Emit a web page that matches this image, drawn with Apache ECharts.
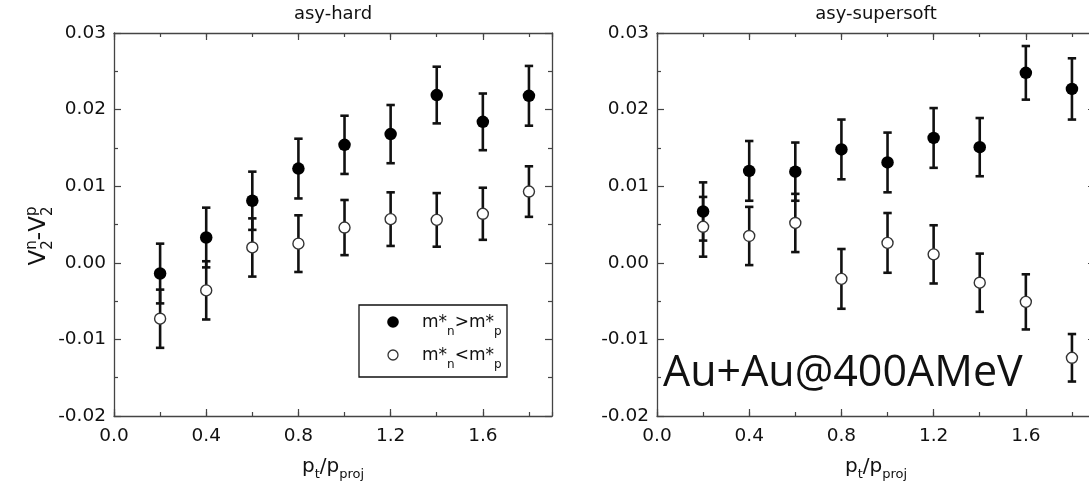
<!DOCTYPE html>
<html><head><meta charset="utf-8">
<script src="https://cdn.jsdelivr.net/npm/echarts@6/dist/echarts.min.js"></script>
<style>html,body{margin:0;padding:0;background:#fff}#c{width:1089px;height:491px}</style>
</head><body><div id="c"></div>
<script>
// ---- data ----
const xValues = [0.2, 0.4, 0.6, 0.8, 1.0, 1.2, 1.4, 1.6, 1.8];
// asy-hard
const hardFilled    = [-0.0014, 0.0033, 0.0081, 0.0123, 0.0154, 0.0168, 0.0219, 0.0184, 0.0218];
const hardFilledErr = [0.0039, 0.0039, 0.0038, 0.0039, 0.0038, 0.0038, 0.0037, 0.0037, 0.0039];
const hardOpen      = [-0.0073, -0.0036, 0.0020, 0.0025, 0.0046, 0.0057, 0.0056, 0.0064, 0.0093];
const hardOpenErr   = [0.0038, 0.0038, 0.0038, 0.0037, 0.0036, 0.0035, 0.0035, 0.0034, 0.0033];
// asy-supersoft
const softFilled    = [0.0067, 0.0120, 0.0119, 0.0148, 0.0131, 0.0163, 0.0151, 0.0248, 0.0227];
const softFilledErr = [0.0038, 0.0039, 0.0038, 0.0039, 0.0039, 0.0039, 0.0038, 0.0035, 0.0040];
const softOpen      = [0.0047, 0.0035, 0.0052, -0.0021, 0.0026, 0.0011, -0.0026, -0.0051, -0.0124];
const softOpenErr   = [0.0039, 0.0038, 0.0038, 0.0039, 0.0039, 0.0038, 0.0038, 0.0036, 0.0031];

const xTickLabels = ['0.0', '0.4', '0.8', '1.2', '1.6'];
const yTickLabels = ['-0.02', '-0.01', '0.00', '0.01', '0.02', '0.03'];
const panelTitles = ['asy-hard', 'asy-supersoft'];
const annotation = 'Au+Au@400AMeV';

// ---- helpers ----
const TICK_FONT = 'DejaVu Sans';
const TXT_FONT = 'DejaVu Sans';
const frameColor = '#444';
const ctx2d = document.createElement('canvas').getContext('2d');
function measure(t, size, fam) { ctx2d.font = size + 'px "' + fam + '"'; return ctx2d.measureText(t).width; }
function txt(t, x, baseline, size, fam, align) {
  return { type: 'text', x: x, y: baseline - 0.35 * size, silent: true,
    style: { text: t, font: size + 'px "' + fam + '"', fill: '#111',
      textAlign: align || 'left', textVerticalAlign: 'middle', align: align || 'left', verticalAlign: 'middle' } };
}
// pieces: {t, s, dy} or {sup, sub, s, up, down}
function runs(pieces, x0, baseline, fam, center) {
  let width = 0;
  const ws = pieces.map(p => {
    const w = p.t !== undefined ? measure(p.t, p.s, fam) : Math.max(measure(p.sup, p.s, fam), measure(p.sub, p.s, fam));
    width += w; return w;
  });
  let x = center ? x0 - width / 2 : x0;
  const out = [];
  pieces.forEach((p, i) => {
    if (p.t !== undefined) out.push(txt(p.t, x, baseline + (p.dy || 0), p.s, fam));
    else { out.push(txt(p.sup, x, baseline - p.up, p.s, fam)); out.push(txt(p.sub, x, baseline + p.down, p.s, fam)); }
    x += ws[i];
  });
  return out;
}
function isMult(v, step) { const r = v / step; return Math.abs(r - Math.round(r)) < 1e-6; }

// ---- axes ----
const xAxes = [], yAxes = [];
[0, 1].forEach(g => {
  const base = { type: 'value', gridIndex: g, min: 0, max: 1.9, splitLine: { show: false } };
  const line = { show: true, onZero: false, lineStyle: { color: frameColor, width: 1.3 } };
  xAxes.push(Object.assign({}, base, { position: 'bottom', interval: 0.4,
    axisLine: line,
    axisTick: { show: true, inside: true, length: 7, lineStyle: { color: frameColor, width: 1.2 } },
    axisLabel: { show: true, margin: 11, fontSize: 18.5, fontFamily: TICK_FONT, color: '#111', showMaxLabel: false,
      formatter: v => isMult(v, 0.4) ? (xTickLabels[Math.round(v / 0.4)] || '') : '' } }));
  xAxes.push(Object.assign({}, base, { position: 'bottom', interval: 0.2,
    axisLine: { show: false, onZero: false }, axisLabel: { show: false },
    axisTick: { show: true, inside: true, length: 4, lineStyle: { color: frameColor, width: 1.2 } } }));
  xAxes.push(Object.assign({}, base, { position: 'top', interval: 0.4,
    axisLine: line, axisLabel: { show: false },
    axisTick: { show: true, inside: true, length: 7, lineStyle: { color: frameColor, width: 1.2 } } }));
  xAxes.push(Object.assign({}, base, { position: 'top', interval: 0.2,
    axisLine: { show: false, onZero: false }, axisLabel: { show: false },
    axisTick: { show: true, inside: true, length: 4, lineStyle: { color: frameColor, width: 1.2 } } }));
  const ybase = { type: 'value', gridIndex: g, min: -0.02, max: 0.03, interval: 0.01, splitLine: { show: false },
    axisLine: line,
    axisTick: { show: true, inside: true, length: 7, lineStyle: { color: frameColor, width: 1.2 } },
    minorTick: { show: true, splitNumber: 2, length: 4, lineStyle: { color: frameColor, width: 1.2 } } };
  yAxes.push(Object.assign({}, ybase, { position: 'left',
    axisLabel: { show: true, margin: 8, fontSize: 18.5, fontFamily: TICK_FONT, color: '#111',
      formatter: v => yTickLabels[Math.round((v + 0.02) / 0.01)] || '' } }));
  yAxes.push(Object.assign({}, ybase, { position: 'right', axisLabel: { show: false } }));
});

// ---- series ----
function errorBars(vals, errs, xi, yi) {
  return { type: 'custom', xAxisIndex: xi, yAxisIndex: yi, z: 2, silent: true,
    data: xValues.map((x, i) => [x, vals[i] - errs[i], vals[i] + errs[i]]),
    encode: { x: 0, y: [1, 2] },
    renderItem(params, api) {
      const x = api.value(0);
      const lo = api.coord([x, api.value(1)]);
      const hi = api.coord([x, api.value(2)]);
      const hw = 4.2, st = { stroke: '#111', lineWidth: 2.6 };
      return { type: 'group', children: [
        { type: 'line', shape: { x1: lo[0], y1: lo[1], x2: hi[0], y2: hi[1] }, style: st },
        { type: 'line', shape: { x1: lo[0] - hw, y1: lo[1], x2: lo[0] + hw, y2: lo[1] }, style: st },
        { type: 'line', shape: { x1: hi[0] - hw, y1: hi[1], x2: hi[0] + hw, y2: hi[1] }, style: st }
      ] };
    } };
}
function filled(vals, xi, yi) {
  return { type: 'scatter', xAxisIndex: xi, yAxisIndex: yi, z: 3, symbol: 'circle', symbolSize: 12.5, silent: true,
    itemStyle: { color: '#000', opacity: 1 }, data: xValues.map((x, i) => [x, vals[i]]) };
}
function open(vals, xi, yi) {
  return { type: 'scatter', xAxisIndex: xi, yAxisIndex: yi, z: 3, symbol: 'circle', symbolSize: 11, silent: true,
    itemStyle: { color: '#fff', opacity: 1, borderColor: '#333', borderWidth: 1.4 }, data: xValues.map((x, i) => [x, vals[i]]) };
}

const series = [
  errorBars(hardOpen, hardOpenErr, 0, 0), errorBars(hardFilled, hardFilledErr, 0, 0),
  open(hardOpen, 0, 0), filled(hardFilled, 0, 0),
  errorBars(softOpen, softOpenErr, 4, 2), errorBars(softFilled, softFilledErr, 4, 2),
  open(softOpen, 4, 2), filled(softFilled, 4, 2)
];

// ---- graphic annotations ----
const grids = [{ left: 114, top: 33, width: 438, height: 383 }, { left: 657, top: 33, width: 438, height: 383 }];
const graphics = [];
grids.forEach((gr, g) => {
  const cx = gr.left + gr.width / 2;
  graphics.push(txt(panelTitles[g], cx, 21, 18, TXT_FONT, 'center'));
  // x-axis name p_t/p_proj
  runs([{ t: 'p', s: 20 }, { t: 't', s: 13, dy: 5 }, { t: '/', s: 20 }, { t: 'p', s: 20 }, { t: 'proj', s: 13, dy: 5 }],
    cx, 474, TXT_FONT, true).forEach(e => graphics.push(e));
});
// y-axis name (rotated)
graphics.push({ type: 'group', x: 47, y: 236, rotation: Math.PI / 2,
  children: runs([{ t: 'V', s: 23 }, { sup: 'n', sub: '2', s: 15, up: 10, down: 6 }, { t: '-', s: 23 },
    { t: 'V', s: 23 }, { sup: 'p', sub: '2', s: 15, up: 10, down: 6 }], 0, 0, TXT_FONT, true) });
// legend box
graphics.push({ type: 'rect', shape: { x: 359, y: 305, width: 148, height: 72 }, style: { fill: '#fff', stroke: '#111', lineWidth: 1.3 }, z: 10 });
graphics.push({ type: 'circle', shape: { cx: 393, cy: 322, r: 5.8 }, style: { fill: '#000' }, z: 11 });
graphics.push({ type: 'circle', shape: { cx: 393, cy: 355, r: 5 }, style: { fill: '#fff', stroke: '#333', lineWidth: 1.3 }, z: 11 });
[[329, '>'], [362, '<']].forEach(([b, op]) => {
  runs([{ t: 'm*', s: 17 }, { t: 'n', s: 12, dy: 7 }, { t: op + 'm*', s: 17 }, { t: 'p', s: 12, dy: 7 }], 422, b, TXT_FONT, false)
    .forEach(e => { e.z = 11; graphics.push(e); });
});
// annotation
graphics.push(txt(annotation, 663, 389, 43, 'Open Sans'));

const chart = echarts.init(document.getElementById('c'), null, { renderer: 'canvas' });
chart.setOption({
  animation: false,
  backgroundColor: '#fff',
  grid: grids.map(g => Object.assign({ containLabel: false, outerBoundsMode: 'none' }, g)),
  xAxis: xAxes,
  yAxis: yAxes,
  series: series,
  graphic: graphics
});
</script>
</body></html>
